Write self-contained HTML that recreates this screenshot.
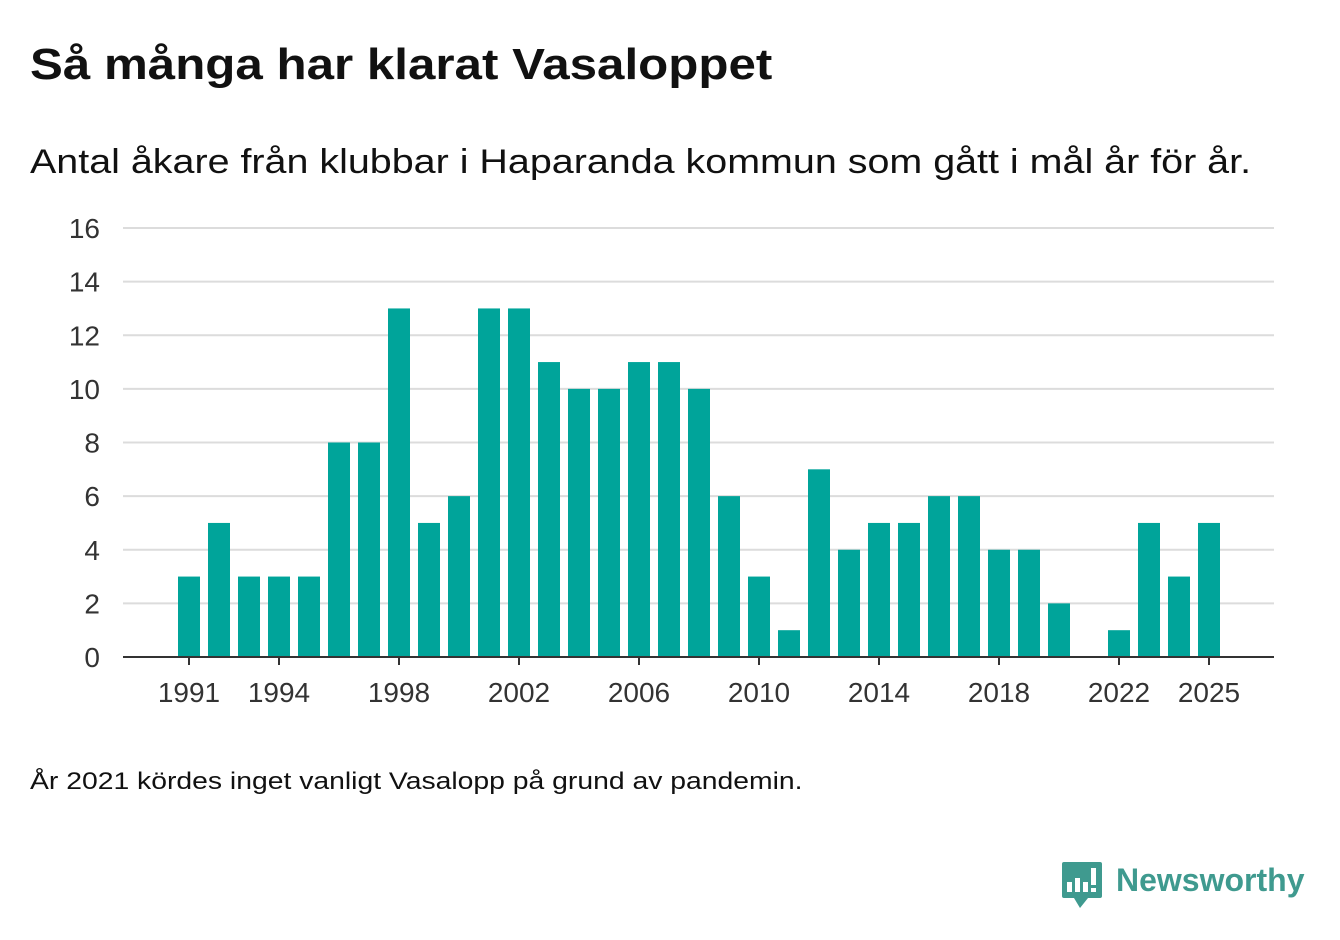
<!DOCTYPE html>
<html><head><meta charset="utf-8"><style>
body{margin:0;width:1340px;height:940px;background:#fff;font-family:"Liberation Sans","DejaVu Sans",sans-serif;overflow:hidden;position:relative}
h1{position:absolute;left:30px;top:40px;margin:0;font-size:44px;font-weight:bold;color:#111;transform:scaleX(1.12);transform-origin:0 0;white-space:nowrap}
.sub{position:absolute;left:30px;top:143px;font-size:34px;color:#111;transform:scaleX(1.16);transform-origin:0 0;white-space:nowrap}
.note{position:absolute;left:30px;top:768px;font-size:24px;color:#111;transform:scaleX(1.18);transform-origin:0 0;white-space:nowrap}
svg{position:absolute;left:0;top:0}
</style></head><body>
<h1>Så många har klarat Vasaloppet</h1>
<div class="sub">Antal åkare från klubbar i Haparanda kommun som gått i mål år för år.</div>
<div class="note">År 2021 kördes inget vanligt Vasalopp på grund av pandemin.</div>
<svg id="chart" width="1340" height="940"></svg>
<div style="position:absolute;left:1062px;top:862px;">
<svg width="40" height="48" style="position:static"><path d="M0 2 Q0 0 2 0 H38 Q40 0 40 2 V34 Q40 36 38 36 H26 L18 46 L12 36 H2 Q0 36 0 34Z" fill="#3f9a8f"/><rect x="5" y="20" width="5" height="10" fill="#fff"/><rect x="13" y="16" width="5" height="14" fill="#fff"/><rect x="21" y="20" width="5" height="10" fill="#fff"/><rect x="29" y="6" width="5" height="17" fill="#fff"/><rect x="29" y="26" width="5" height="4" fill="#fff"/></svg>
<span style="position:absolute;left:54px;top:0px;font-size:32px;font-weight:bold;color:#3f9a8f;white-space:nowrap">Newsworthy</span>
</div>
<script>
const years=[1991,1992,1993,1994,1995,1996,1997,1998,1999,2000,2001,2002,2003,2004,2005,2006,2007,2008,2009,2010,2011,2012,2013,2014,2015,2016,2017,2018,2019,2020,2021,2022,2023,2024,2025];
const values=[3,5,3,3,3,8,8,13,5,6,13,13,11,10,10,11,11,10,6,3,1,7,4,5,5,6,6,4,4,2,0,1,5,3,5];
const yTicks=[0,2,4,6,8,10,12,14,16];
const xTickYears=[1991,1994,1998,2002,2006,2010,2014,2018,2022,2025];
const svg=document.getElementById('chart');const NS='http://www.w3.org/2000/svg';
const x=y=>189+(y-1991)*30;
const yS=v=>657-v*(429/16);
function mk(t,a,p){const e=document.createElementNS(NS,t);for(const k in a)e.setAttribute(k,a[k]);(p||svg).appendChild(e);return e;}
yTicks.forEach(t=>{
 if(t>0){const l=mk('line',{x1:123,x2:1274,y1:yS(t),y2:yS(t),stroke:'#dcdcdc','stroke-width':2});
 
 }
 const tx=mk('text',{x:100,y:yS(t)+10,'text-anchor':'end','font-size':28,fill:'#333','font-family':'Liberation Sans, sans-serif'});
 tx.textContent=t;
 
 
});
years.forEach((yr,i)=>{
 const v=values[i];
 const r=mk('rect',{x:x(yr)-11,y:yS(v),width:22,height:657-yS(v),fill:'#00a49a'});
 
 
});
const ax=mk('line',{x1:123,x2:1274,y1:657,y2:657,stroke:'#333','stroke-width':2});


xTickYears.forEach(yr=>{
 const tk=mk('line',{x1:x(yr),x2:x(yr),y1:657,y2:665,stroke:'#333','stroke-width':2});
 
 
 const tx=mk('text',{x:x(yr),y:702,'text-anchor':'middle','font-size':28,fill:'#333','font-family':'Liberation Sans, sans-serif'});
 tx.textContent=yr;
 
 
});
</script>
</body></html>
